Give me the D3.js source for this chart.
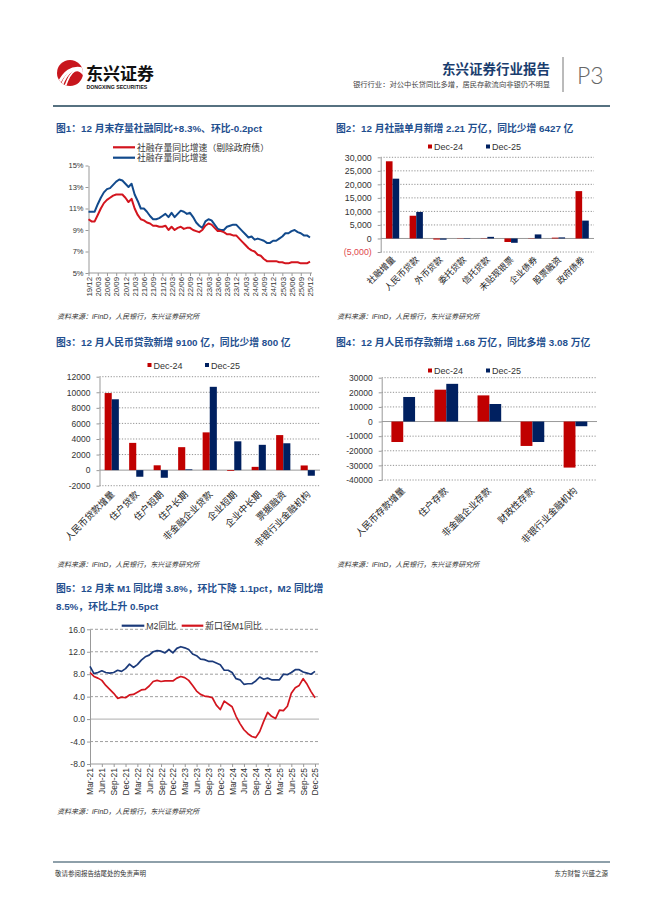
<!DOCTYPE html>
<html>
<head>
<meta charset="utf-8">
<script src="https://cdn.jsdelivr.net/npm/d3@7"></script>
<style>
body { margin: 0; background: #fff; }
text { font-family: "Liberation Sans", "Noto Sans CJK SC", sans-serif; }
</style>
</head>
<body>
<div id="page"></div>
<script>
// ---- data ----
// chart 1: monthly, 19/12 .. 25/12
const c1Ticks = ["19/12","20/03","20/06","20/09","20/12","21/03","21/06","21/09","21/12","22/03","22/06","22/09","22/12","23/03","23/06","23/09","23/12","24/03","24/06","24/09","24/12","25/03","25/06","25/09","25/12"];
const c1Total = [10.7,
  10.7,10.7,11.4,12.0,12.5,12.8,12.9,13.2,13.5,13.7,13.6,13.3,
  13.0,13.3,12.3,11.7,11.0,11.0,10.7,10.3,10.0,10.0,10.1,10.3,
  10.5,10.2,10.6,10.2,10.5,10.8,10.7,10.5,10.6,10.2,9.7,9.4,
  9.2,9.8,10.0,9.9,9.5,9.1,9.0,9.0,9.3,9.4,9.5,9.5,
  9.2,8.9,8.6,8.3,8.4,8.1,8.2,8.1,8.0,7.8,7.8,8.0,
  8.0,8.2,8.4,8.7,8.7,8.9,9.0,8.8,8.7,8.5,8.5,8.3];
const c1ExGov = [10.0,
  9.8,9.8,10.4,11.0,11.5,11.8,12.0,12.2,12.3,12.3,12.3,12.0,
  11.6,11.9,11.0,10.4,10.0,9.9,9.7,9.6,9.4,9.4,9.3,9.3,
  9.4,9.0,9.3,9.0,9.2,9.3,9.1,9.2,9.2,9.0,8.9,8.8,
  9.0,9.4,9.6,9.5,9.2,8.9,8.9,8.8,8.6,8.6,8.5,8.5,
  8.2,7.9,7.6,7.3,7.1,7.0,6.7,6.6,6.3,6.1,6.1,6.1,
  6.1,6.0,6.0,5.9,5.9,6.0,6.0,6.0,5.9,5.9,5.9,6.05];

// chart 2
const c2Cats = ["社融增量","人民币贷款","外币贷款","委托贷款","信托贷款","未贴现银票","企业债券","股票融资","政府债券"];
const c2Dec24 = [28527, 8400, -400, 100, 100, -1300, -100, 300, 17500];
const c2Dec25 = [22100, 9800, -450, 150, 600, -1600, 1500, 400, 6600];
const c2Ticks = [-5000, 0, 5000, 10000, 15000, 20000, 25000, 30000];

// chart 3
const c3Cats = ["人民币贷款增量","住户贷款","住户短期","住户长期","非金融企业贷款","企业短期","企业中长期","票据融资","非银行业金融机构"];
const c3Dec24 = [9900, 3500, 620, 2950, 4850, -100, 420, 4500, 600];
const c3Dec25 = [9100, -850, -980, 100, 10700, 3700, 3250, 3450, -720];
const c3Ticks = [-2000, 0, 2000, 4000, 6000, 8000, 10000, 12000];

// chart 4
const c4Cats = ["人民币存款增量","住户存款","非金融企业存款","财政性存款","非银行业金融机构"];
const c4Dec24 = [-14000, 21800, 17900, -16700, -31500];
const c4Dec25 = [16800, 25800, 12000, -14000, -3200];
const c4Ticks = [-40000, -30000, -20000, -10000, 0, 10000, 20000, 30000];

// chart 5: monthly, Mar-21 .. Dec-25
const c5Ticks = ["Mar-21","Jun-21","Sep-21","Dec-21","Mar-22","Jun-22","Sep-22","Dec-22","Mar-23","Jun-23","Sep-23","Dec-23","Mar-24","Jun-24","Sep-24","Dec-24","Mar-25","Jun-25","Sep-25","Dec-25"];
const c5M2 = [9.4,8.1,8.3,8.6,8.3,8.2,8.3,8.7,8.5,9.0,
  9.8,9.2,9.7,10.5,11.1,11.4,12.0,12.2,12.1,11.8,12.4,11.8,
  12.6,12.9,12.7,12.4,11.6,11.3,10.7,10.6,10.3,10.3,10.0,9.7,
  8.7,8.7,8.3,7.2,7.0,6.2,6.3,6.3,6.8,7.5,7.1,7.3,
  7.0,7.0,7.0,8.0,7.9,8.3,8.8,8.8,8.4,8.2,8.0,8.5];
const c5M1 = [8.3,7.6,7.3,6.9,6.0,5.3,4.6,3.7,3.9,3.8,
  4.3,4.4,4.8,5.2,5.3,5.9,6.7,6.9,6.7,6.8,6.8,6.8,
  7.3,7.6,7.4,6.9,6.0,5.0,4.4,4.1,4.0,3.8,2.5,1.7,
  3.2,2.7,2.2,0.5,-0.8,-1.9,-2.6,-3.1,-3.3,-2.2,-0.4,1.2,
  0.5,0.1,1.6,1.5,2.3,4.6,5.6,6.0,7.2,6.2,4.9,3.8];

// ---- page ----
const RED = "#c00000", NAVY = "#002060";
const LRED = "#d3151e", LBLUE = "#124a8c";
const TITLE = "#1f4f8f", CJK = "\"Noto Sans CJK SC\", sans-serif";

const svg = d3.select("#page").append("svg")
    .attr("width", 662)
    .attr("height", 898);

// header
const logo = svg.append("g");
logo.append("clipPath").attr("id", "lc").append("circle").attr("cx", 70).attr("cy", 73).attr("r", 13);
logo.append("circle").attr("cx", 70).attr("cy", 73).attr("r", 13).attr("fill", "#c8161d");
const lg = logo.append("g").attr("clip-path", "url(#lc)");
[[0, 3], [4, 2.4], [8, 1.8]].forEach(([o, w]) => {
  lg.append("path")
    .attr("d", `M${56 + o},${90} Q${66 + o},${62 - o / 2} ${86},${70 + o}`)
    .attr("fill", "none").attr("stroke", "#fff").attr("stroke-width", w);
});
svg.append("text").attr("x", 86).attr("y", 80).attr("font-size", 17).attr("font-weight", "bold")
  .style("font-family", CJK).attr("fill", "#111").text("东兴证券");
svg.append("text").attr("x", 86.5).attr("y", 89).attr("font-size", 5.2).attr("font-weight", "bold")
  .attr("fill", "#111").text("DONGXING SECURITIES");

svg.append("text").attr("x", 550).attr("y", 74).attr("text-anchor", "end").attr("font-size", 13.5)
  .attr("font-weight", "bold").style("font-family", CJK).attr("fill", "#1a3d6e").text("东兴证券行业报告");
svg.append("text").attr("x", 550).attr("y", 87).attr("text-anchor", "end").attr("font-size", 7.3)
  .style("font-family", CJK).attr("fill", "#444").text("银行行业：对公中长贷同比多增，居民存款流向非银仍不明显");
svg.append("line").attr("x1", 563).attr("x2", 563).attr("y1", 57).attr("y2", 92).attr("stroke", "#777");
svg.append("text").attr("x", 577).attr("y", 84).attr("font-size", 23).attr("font-weight", 300)
  .style("font-family", "Lato, sans-serif").attr("fill", "#666").text("P3");
svg.append("line").attr("x1", 53).attr("x2", 610).attr("y1", 106).attr("y2", 106)
  .attr("stroke", "#1e4256").attr("stroke-width", 1.5);

// footer
svg.append("line").attr("x1", 53).attr("x2", 610).attr("y1", 862).attr("y2", 862)
  .attr("stroke", "#1e4256").attr("stroke-width", 1.2);
svg.append("text").attr("x", 55).attr("y", 876).attr("font-size", 6.5).style("font-family", CJK)
  .attr("fill", "#333").text("敬请参阅报告结尾处的免责声明");
svg.append("text").attr("x", 608).attr("y", 876).attr("text-anchor", "end").attr("font-size", 6.5)
  .style("font-family", CJK).attr("fill", "#333").text("东方财智 兴盛之源");

function title(x, y, s) {
  svg.append("text").attr("x", x).attr("y", y).attr("font-size", 9.8).attr("font-weight", "bold")
    .attr("fill", TITLE).text(s);
}
function source(x, y) {
  svg.append("text").attr("x", x).attr("y", y).attr("font-size", 7).attr("font-style", "italic")
    .attr("fill", "#333").text("资料来源：iFinD，人民银行，东兴证券研究所");
}
function squareLegend(x, y, label, color) {
  svg.append("rect").attr("x", x).attr("y", y - 5.5).attr("width", 4).attr("height", 4).attr("fill", color);
  svg.append("text").attr("x", x + 6).attr("y", y).attr("font-size", 9).attr("fill", "#333").text(label);
}
function lineLegend(x, y, label, color, len) {
  svg.append("line").attr("x1", x).attr("x2", x + len).attr("y1", y).attr("y2", y)
    .attr("stroke", color).attr("stroke-width", 2.2);
  svg.append("text").attr("x", x + len + 2).attr("y", y + 3.2).attr("font-size", 8.8)
    .attr("fill", "#333").text(label);
}

// grouped bar chart
function barChart(o) {
  const g = svg.append("g");
  const x = d3.scaleBand().domain(o.cats).range([o.left, o.right]);
  const y = d3.scaleLinear().domain(o.domain).range([o.bottom, o.top]);
  const bw = x.bandwidth() * o.barFrac / 2;

  o.ticks.forEach(t => {
    g.append("line").attr("x1", o.left).attr("x2", o.right).attr("y1", y(t)).attr("y2", y(t))
      .attr("stroke", t === 0 ? "#999" : "#777").attr("stroke-width", t === 0 ? 1 : 0.8)
      .attr("stroke-dasharray", t === 0 ? null : "1.2,1.6");
  });
  const ax = g.append("g").attr("transform", `translate(${o.left},0)`)
    .call(d3.axisLeft(y).tickValues(o.ticks).tickSize(3).tickSizeOuter(0).tickFormat(o.fmt));
  ax.select(".domain").attr("stroke", "#999");
  ax.selectAll(".tick line").attr("stroke", "#999");
  ax.selectAll(".tick text").attr("font-size", o.tickSize).attr("x", -o.tickGap)
    .attr("fill", d => o.tickColor ? o.tickColor(d) : "#333")
    .style("font-family", "\"Liberation Sans\", sans-serif");

  o.series.forEach((s, si) => {
    g.selectAll(null).data(s.values).enter().append("rect")
      .attr("x", (d, i) => x(o.cats[i]) + x.bandwidth() / 2 - bw + si * bw)
      .attr("y", d => y(Math.max(0, d)))
      .attr("width", bw)
      .attr("height", d => Math.abs(y(d) - y(0)))
      .attr("fill", s.color);
  });

  g.selectAll(null).data(o.cats).enter().append("text")
    .attr("transform", d => `translate(${x(d) + x.bandwidth() / 2 + o.labelDx},${o.bottom + o.labelDy}) rotate(-45)`)
    .attr("text-anchor", "end")
    .attr("dy", "0.35em")
    .attr("font-size", o.labelSize)
    .attr("fill", "#222")
    .style("font-family", CJK)
    .text(d => d);
}

// monthly line chart
function lineChart(o) {
  const g = svg.append("g");
  const n = o.series[0].values.length;
  const x = d3.scaleLinear().domain([0, n - 1]).range([o.left, o.xEnd]);
  const y = d3.scaleLinear().domain(o.domain).range([o.bottom, o.top]);

  if (o.grid) {
    o.ticks.forEach(t => {
      if (t === o.domain[0]) return;
      g.append("line").attr("x1", o.left).attr("x2", o.right).attr("y1", y(t)).attr("y2", y(t))
        .attr("stroke", t === 0 ? "#999" : "#888").attr("stroke-width", 0.8)
        .attr("stroke-dasharray", t === 0 ? null : "3,2");
    });
  }
  const ay = g.append("g").attr("transform", `translate(${o.left},0)`)
    .call(d3.axisLeft(y).tickValues(o.ticks).tickSize(3).tickSizeOuter(0).tickFormat(o.fmt));
  ay.select(".domain").attr("stroke", "#999");
  ay.selectAll(".tick line").attr("stroke", "#999");
  ay.selectAll(".tick text").attr("font-size", o.tickSize).attr("x", -o.tickGap).attr("fill", "#333");

  const tickIdx = o.xLabels.map((d, i) => i * 3);
  const ax = g.append("g").attr("transform", `translate(0,${o.bottom})`)
    .call(d3.axisBottom(x).tickValues(tickIdx).tickSize(3).tickSizeOuter(0)
      .tickFormat((d, i) => o.xLabels[i]));
  ax.select(".domain").attr("stroke", "#999").attr("d", `M${o.left},0H${o.right}`);
  ax.selectAll(".tick line").attr("stroke", "#999");
  ax.selectAll(".tick text")
    .attr("transform", "rotate(-90)")
    .attr("text-anchor", "end")
    .attr("x", -4).attr("y", 0).attr("dy", "0.35em")
    .attr("font-size", o.xSize).attr("fill", "#333");

  const line = d3.line().x((d, i) => x(i)).y(d => y(d));
  o.series.forEach(s => {
    g.append("path").datum(s.values).attr("d", line)
      .attr("fill", "none").attr("stroke", s.color).attr("stroke-width", s.width)
      .attr("stroke-linejoin", "round");
  });
}

// chart 1
title(56, 132, "图1：12 月末存量社融同比+8.3%、环比-0.2pct");
lineLegend(113, 147.3, "社融存量同比增速（剔除政府债）", LRED, 22);
lineLegend(113, 157.7, "社融存量同比增速", LBLUE, 22);
lineChart({
  left: 88.5, right: 312, xEnd: 310, top: 165.5, bottom: 273,
  domain: [5, 15], ticks: [5, 7, 9, 11, 13, 15], fmt: d => d + "%",
  tickSize: 7.5, tickGap: 5, xLabels: c1Ticks, xSize: 7.8, grid: false,
  series: [{ values: c1Total, color: LBLUE, width: 2 }, { values: c1ExGov, color: LRED, width: 2 }]
});
source(57, 319);

// chart 2
title(336, 132, "图2：12 月社融单月新增 2.21 万亿，同比少增 6427 亿");
squareLegend(428, 150, "Dec-24", RED);
squareLegend(486, 150, "Dec-25", NAVY);
barChart({
  cats: c2Cats, left: 380.7, right: 594, top: 157.3, bottom: 252,
  domain: [-5000, 30000], ticks: c2Ticks,
  fmt: d => d < 0 ? "(" + d3.format(",")(-d) + ")" : d3.format(",")(d),
  tickColor: d => d < 0 ? "#e0474c" : "#333",
  tickSize: 8.8, tickGap: 9, barFrac: 0.56, labelSize: 8.8, labelDx: 1, labelDy: 6,
  series: [{ values: c2Dec24, color: RED }, { values: c2Dec25, color: NAVY }]
});
source(337, 319);

// chart 3
title(56, 345.5, "图3：12 月人民币贷款新增 9100 亿，同比少增 800 亿");
squareLegend(147.5, 368.5, "Dec-24", RED);
squareLegend(205, 368.5, "Dec-25", NAVY);
barChart({
  cats: c3Cats, left: 99.5, right: 320, top: 376.7, bottom: 485.7,
  domain: [-2000, 12000], ticks: c3Ticks, fmt: d => String(d),
  tickSize: 8.5, tickGap: 9, barFrac: 0.58, labelSize: 9.3, labelDx: 1, labelDy: 7,
  series: [{ values: c3Dec24, color: RED }, { values: c3Dec25, color: NAVY }]
});
source(57, 567);

// chart 4
title(336, 345.5, "图4：12 月人民币存款新增 1.68 万亿，同比多增 3.08 万亿");
squareLegend(428, 374, "Dec-24", RED);
squareLegend(486, 374, "Dec-25", NAVY);
barChart({
  cats: c4Cats, left: 381.7, right: 597, top: 377.7, bottom: 480,
  domain: [-40000, 30000], ticks: c4Ticks, fmt: d => String(d),
  tickSize: 8.5, tickGap: 9, barFrac: 0.55, labelSize: 9.3, labelDx: 0, labelDy: 9,
  series: [{ values: c4Dec24, color: RED }, { values: c4Dec25, color: NAVY }]
});
source(337, 567);

// chart 5
title(56, 592, "图5：12 月末 M1 同比增 3.8%，环比下降 1.1pct，M2 同比增");
title(56, 609.5, "8.5%，环比上升 0.5pct");
lineLegend(121.7, 625.7, "M2同比", "#1b3a7a", 22.6);
lineLegend(181.7, 625.7, "新口径M1同比", LRED, 21.6);
lineChart({
  left: 90, right: 319, xEnd: 315, top: 629.3, bottom: 764,
  domain: [-8, 16], ticks: [-8, -4, 0, 4, 8, 12, 16], fmt: d => d.toFixed(1),
  tickSize: 8.5, tickGap: 5, xLabels: c5Ticks, xSize: 8.5, grid: true,
  series: [{ values: c5M2, color: "#1b3a7a", width: 1.7 }, { values: c5M1, color: LRED, width: 1.7 }]
});
source(57, 814);
</script>
</body>
</html>
